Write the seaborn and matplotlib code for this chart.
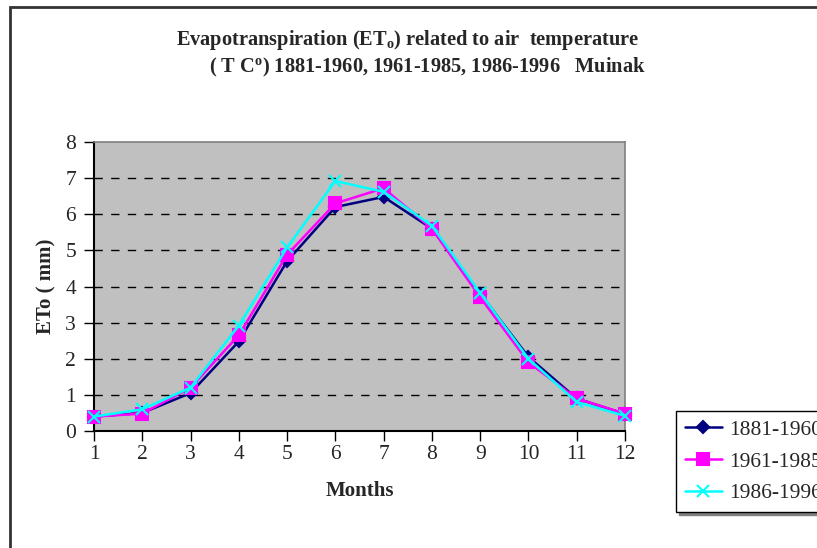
import matplotlib
matplotlib.use("Agg")
import matplotlib.pyplot as plt
import seaborn as sns
import pandas as pd
from matplotlib.patches import Rectangle

months = list(range(1, 13))
eto_1881_1960 = [0.4, 0.5, 1.05, 2.48, 4.7, 6.2, 6.48, 5.6, 3.8, 2.05, 0.9, 0.47]
eto_1961_1985 = [0.4, 0.48, 1.2, 2.65, 4.88, 6.3, 6.72, 5.6, 3.7, 1.9, 0.9, 0.48]
eto_1986_1996 = [0.4, 0.6, 1.2, 2.92, 5.08, 6.92, 6.62, 5.68, 3.82, 2.0, 0.8, 0.42]
series_names = ["1881-1960", "1961-1985", "1986-1996"]
x_ticks = list(range(1, 13))
y_ticks = list(range(0, 9))

df = pd.DataFrame({
    "Month": months * 3,
    "ETo": eto_1881_1960 + eto_1961_1985 + eto_1986_1996,
    "Period": [series_names[0]] * 12 + [series_names[1]] * 12 + [series_names[2]] * 12,
})

sns.set_theme(style="white")
plt.rcParams["font.family"] = ["Liberation Serif", "DejaVu Serif"]
plt.rcParams["mathtext.fontset"] = "custom"
plt.rcParams["mathtext.rm"] = "Liberation Serif:bold"
plt.rcParams["mathtext.bf"] = "Liberation Serif:bold"
plt.rcParams["mathtext.it"] = "Liberation Serif:bold"

W, H = 817, 548
fig = plt.figure(figsize=(W / 100, H / 100), dpi=100)
fig.patch.set_facecolor("white")

# chart frame
fig.add_artist(Rectangle((10 / W, -0.05), 1, 1.05 - 7 / H, transform=fig.transFigure,
                         fill=False, edgecolor="#333333", linewidth=2))

left, right, top, bottom = 94, 625, 142, 431
ax = fig.add_axes([left / W, 1 - bottom / H, (right - left) / W, (bottom - top) / H])
ax.set_facecolor("#C0C0C0")

colors = ["#000080", "#FF00FF", "#00FFFF"]
marker_list = ["D", "s", "x"]
marker_sizes = [6, 8.5, 9]
for name, col, mk, ms in zip(series_names, colors, marker_list, marker_sizes):
    sub = df[df["Period"] == name]
    sns.lineplot(data=sub, x="Month", y="ETo", color=col, marker=mk, markersize=ms,
                 markeredgecolor=col, markerfacecolor=col, markeredgewidth=1.5,
                 linewidth=1.8, ax=ax, label=name, clip_on=False, zorder=3)

ax.set_xlim(1, 12)
ax.set_ylim(0, 8)
ax.set_xticks(x_ticks)
ax.set_yticks(y_ticks)
ax.set_xticklabels([str(v) for v in x_ticks], fontsize=15.5)
ax.set_yticklabels([str(v) for v in y_ticks], fontsize=15.5)
ax.tick_params(axis="both", direction="out", length=7, width=1, color="black", bottom=True, left=True)
ax.tick_params(axis="x", pad=3)
ax.tick_params(axis="y", pad=6)
for yv in y_ticks[1:-1]:
    ax.axhline(yv, color="black", linestyle=(0, (6, 6)), linewidth=1, zorder=0.5)
for s in ["top", "right"]:
    ax.spines[s].set_color("#808080")
    ax.spines[s].set_linewidth(1.2)
for s in ["left", "bottom"]:
    ax.spines[s].set_color("black")
    ax.spines[s].set_linewidth(1.5)

ax.set_xlabel("Months", fontsize=15, fontweight="bold", labelpad=12)
ax.set_ylabel("ETo ( mm)", fontsize=15, fontweight="bold", labelpad=6)

fig.text(408 / W, 1 - 40 / H, r"Evapotranspiration (ET$_\mathrm{o}$) related to air  temperature",
         ha="center", va="center", fontsize=14.7, fontweight="bold")
fig.text(427 / W, 1 - 67 / H, r"( T C$^\mathrm{o}$) 1881-1960, 1961-1985, 1986-1996   Muinak",
         ha="center", va="center", fontsize=14.7, fontweight="bold")

handles, labels = ax.get_legend_handles_labels()
leg = ax.legend(handles, labels, loc="upper left", bbox_to_anchor=(676 / W, 1 - 411 / H),
                bbox_transform=fig.transFigure, frameon=True, fancybox=False, fontsize=15.5,
                handlelength=1.75, handletextpad=0.3, borderpad=0.4, borderaxespad=0,
                labelspacing=0.55, shadow={"color": "#808080", "alpha": 1.0})
leg.get_frame().set_edgecolor("black")
leg.get_frame().set_linewidth(1)

fig.savefig("out.png", dpi=100)
